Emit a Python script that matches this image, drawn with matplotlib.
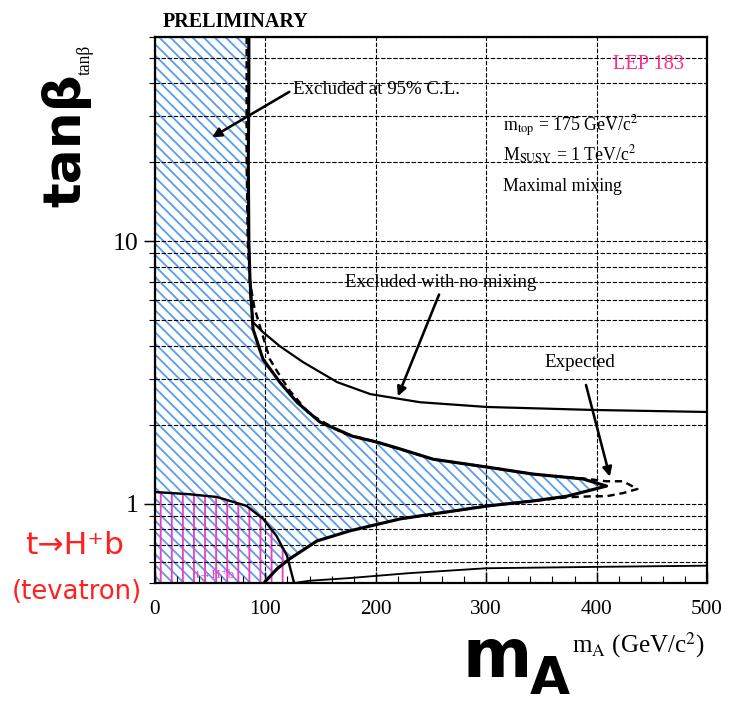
import numpy as np
import matplotlib.pyplot as plt
from matplotlib.ticker import MultipleLocator, LogLocator, NullFormatter, FixedLocator, FixedFormatter

plt.rcParams['mathtext.fontset'] = 'stix'
plt.rcParams['hatch.linewidth'] = 1.0
serif = ['Liberation Serif', 'DejaVu Serif']

# observed 95% CL boundary, upper edge (top down to the tip)
obs_x = [85, 85, 84.5, 85, 86, 88.8, 97.8, 113, 128.6, 149.5, 179, 201, 222, 252, 301.6, 342, 387.7, 409]
obs_y = [60, 40, 20, 10, 7.2, 4.63, 3.56, 2.91, 2.44, 2.05, 1.81, 1.72, 1.62, 1.48, 1.38, 1.30, 1.245, 1.17]
# lower edge, from the tip back to the bottom axis
low_x = [409, 373, 342, 301.6, 252, 222, 176.6, 146.7, 122, 110.5, 99.6, 98.8]
low_y = [1.17, 1.07, 1.026, 0.983, 0.916, 0.877, 0.79, 0.723, 0.618, 0.566, 0.505, 0.5]

# expected limit
exp_x = [83, 83, 84, 86, 90, 96, 104, 111, 122, 140, 170, 201, 252, 302, 342, 388, 409, 424, 437, 424, 409, 397, 373, 342, 302, 252, 222]
exp_y = [60, 20, 10, 7.0, 5.6, 4.6, 3.56, 3.18, 2.7, 2.2, 1.86, 1.72, 1.48, 1.38, 1.30, 1.25, 1.22, 1.22, 1.14, 1.10, 1.07, 1.07, 1.06, 1.026, 0.983, 0.916, 0.877]

# excluded with no mixing
nomix_x = [86, 88.8, 97.8, 113, 134, 165, 195, 222, 240, 300.7, 396.7, 500]
nomix_y = [6.5, 4.92, 4.51, 3.99, 3.47, 2.91, 2.62, 2.51, 2.44, 2.34, 2.28, 2.24]

# lower no-mixing curve near the bottom
bot_x = [126, 140, 176, 230, 300, 400, 500]
bot_y = [0.5, 0.51, 0.522, 0.545, 0.569, 0.576, 0.582]

# t -> H+ b (tevatron)
tev_x = [0, 30, 56, 83, 98, 110, 119.6, 125, 126]
tev_y = [1.11, 1.09, 1.063, 0.983, 0.877, 0.756, 0.634, 0.519, 0.5]

fig = plt.figure(figsize=(729 / 133, 709 / 133), dpi=133)
ax = fig.add_axes([155 / 729, 1 - 583 / 709, 552 / 729, 546 / 709])
ax.set_yscale('log')
ax.set_xlim(0, 500)
ax.set_ylim(0.5, 60)

# hatched excluded region
poly_x = [0] + obs_x + low_x + [0]
poly_y = [60] + obs_y + low_y + [0.5]
ax.fill(poly_x, poly_y, facecolor='none', edgecolor='#5a9fe8', hatch='\\\\\\\\', lw=0, zorder=1)
ax.fill([0] + tev_x, [0.5] + tev_y, facecolor='none', edgecolor='#f23cc6', hatch='||', lw=0, zorder=1.2)

ax.plot(obs_x + low_x, obs_y + low_y, color='k', lw=1.7, zorder=3)
ax.plot(exp_x, exp_y, color='k', lw=1.3, ls=(0, (3, 2)), zorder=2.5)
ax.plot(nomix_x, nomix_y, color='k', lw=1.2, zorder=3)
ax.plot(bot_x, bot_y, color='k', lw=1.0, zorder=3)
ax.plot(tev_x, tev_y, color='k', lw=1.3, zorder=3)
ax.text(55, 0.535, 't→H⁺b', color='#f23cc6', fontsize=7, family=serif, ha='center', va='center', zorder=2)

# axes, ticks and grid
ax.xaxis.set_major_locator(MultipleLocator(100))
ax.xaxis.set_minor_locator(MultipleLocator(20))
ax.yaxis.set_major_locator(FixedLocator([1, 10]))
ax.yaxis.set_major_formatter(FixedFormatter(['1', '10']))
ax.yaxis.set_minor_locator(LogLocator(base=10, subs=np.arange(2, 10)))
ax.yaxis.set_minor_formatter(NullFormatter())
ax.tick_params(axis='x', which='both', direction='in', top=False, labelsize=11.5, pad=9)
ax.tick_params(axis='x', which='major', length=6)
ax.tick_params(axis='x', which='minor', length=4)
ax.tick_params(axis='y', which='major', direction='out', length=6, labelsize=14, pad=3)
ax.tick_params(axis='y', which='minor', direction='out', length=3)
for lab in ax.get_xticklabels() + ax.get_yticklabels():
    lab.set_family(serif)
ax.grid(True, which='both', axis='y', color='k', lw=0.6, ls=(0, (4, 1.5)))
ax.grid(True, which='major', axis='x', color='k', lw=0.6, ls=(0, (4, 1.5)))
for sp in ax.spines.values():
    sp.set_linewidth(1.2)

# annotations
ax.annotate('Excluded at 95% C.L.', xy=(51.6, 24.9), xytext=(125, 37.8),
            fontsize=10.2, family=serif, va='center', ha='left',
            arrowprops=dict(arrowstyle='-|>', color='k', lw=1.4, shrinkA=0, shrinkB=0,
                            relpos=(0, 0.5)))
ax.annotate('Excluded with no mixing', xy=(220, 2.57), xytext=(172, 6.98),
            fontsize=10.2, family=serif, va='center', ha='left',
            arrowprops=dict(arrowstyle='-|>', color='k', lw=1.4, shrinkA=0, shrinkB=0,
                            relpos=(0.5, 0)))
ax.annotate('Expected', xy=(412, 1.27), xytext=(385, 3.47),
            fontsize=10.3, family=serif, va='center', ha='center',
            arrowprops=dict(arrowstyle='-|>', color='k', lw=1.4, shrinkA=6, shrinkB=0))
ax.text(415, 47.1, 'LEP 183', color='#ff2a8a', fontsize=11, family=serif, va='center')
ax.text(315, 27.4, r'm$_{\rm top}$ = 175 GeV/c$^2$', fontsize=9.6, family=serif, va='center')
ax.text(315, 21.4, r'M$_{\rm SUSY}$ = 1 TeV/c$^2$', fontsize=9.6, family=serif, va='center')
ax.text(315, 16.2, 'Maximal mixing', fontsize=9.6, family=serif, va='center')

fig.text(163 / 729, 1 - 22 / 709, 'PRELIMINARY', fontsize=10.9, family=serif, weight='bold', va='center')
fig.text(85 / 729, 1 - 60 / 709, 'tanβ', fontsize=9.5, family=serif, rotation=90, ha='center', va='center')
fig.text(66 / 729, 1 - 140 / 709, 'tanβ', fontsize=28, family='DejaVu Sans', weight='bold',
         rotation=90, ha='center', va='center')
fig.text(638 / 729, 1 - 645 / 709, r'm$_{\rm A}$ (GeV/c$^2$)', fontsize=13.5, family=serif, ha='center', va='center')
fig.text(497 / 729, 1 - 658 / 709, 'm', fontsize=36, family='DejaVu Sans', weight='bold', ha='center', va='center')
fig.text(550 / 729, 1 - 680 / 709, 'A', fontsize=28, family='DejaVu Sans', weight='bold', ha='center', va='center')
fig.text(75 / 729, 1 - 545 / 709, 't→H⁺b', fontsize=17, color='#ff2020', family=['DejaVu Sans'], ha='center', va='center')
fig.text(77 / 729, 1 - 592 / 709, '(tevatron)', fontsize=14, color='#ff2020', family='DejaVu Sans', ha='center', va='center')

fig.savefig('out.png', dpi=133)
